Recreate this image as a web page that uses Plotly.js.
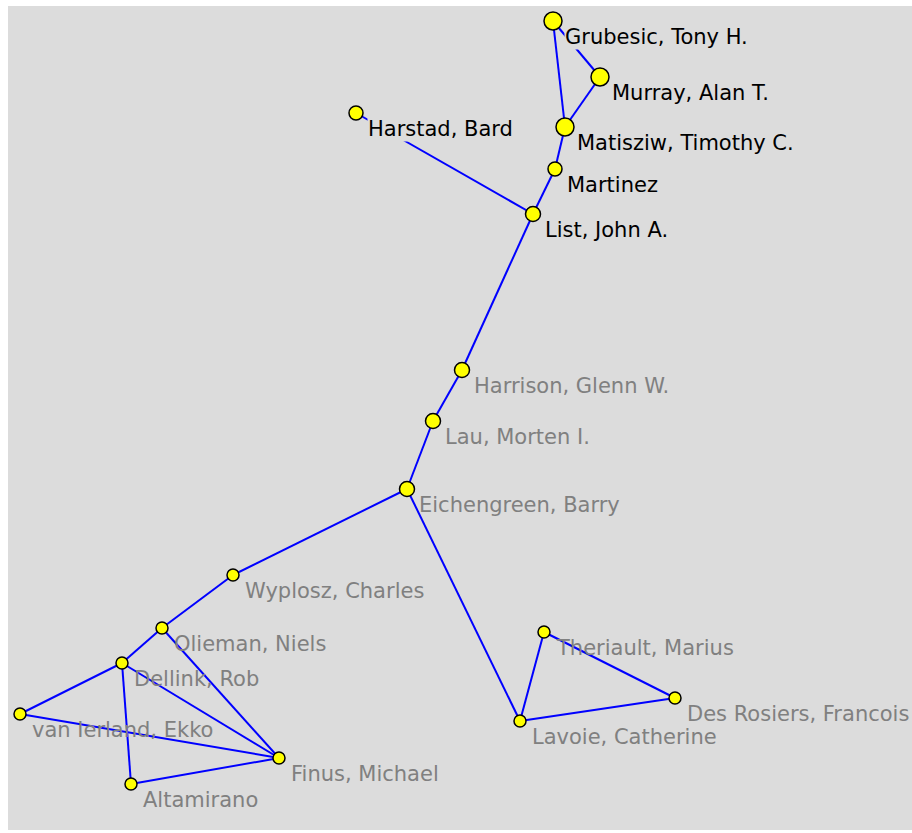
<!DOCTYPE html>
<html>
<head>
<meta charset="utf-8">
<script src="https://cdn.plot.ly/plotly-3.0.1.min.js"></script>
<style>html,body{margin:0;padding:0;background:#fff;}</style>
</head>
<body>
<div id="chart" style="width:912px;height:833px;"></div>
<script>
// Node names
const names = [
  "Grubesic, Tony H.", "Murray, Alan T.", "Matisziw, Timothy C.", "Martinez",
  "List, John A.", "Harstad, Bard", "Harrison, Glenn W.", "Lau, Morten I.",
  "Eichengreen, Barry", "Wyplosz, Charles", "Olieman, Niels", "Dellink, Rob",
  "van Ierland, Ekko", "Altamirano", "Finus, Michael", "Theriault, Marius",
  "Des Rosiers, Francois", "Lavoie, Catherine"
];
// Layout positions of the nodes (network layout coordinates)
const nodeX = [553, 600, 565, 555, 533, 356, 462, 433, 407, 233, 162, 122, 20, 131, 279, 544, 675, 520];
const nodeY = [21, 77, 127, 169, 214, 113, 370, 421, 489, 575, 628, 663, 714, 784, 758, 632, 698, 721];
// Node weights (drawn as marker size)
const nodeSize = [18, 18, 18, 14, 15, 14, 15, 15, 15, 12, 12, 12, 12, 12, 12, 12, 12, 12];
// Highlighted (black label) nodes
const highlighted = [1, 1, 1, 1, 1, 1, 0, 0, 0, 0, 0, 0, 0, 0, 0, 0, 0, 0];
// Edges: source, target indexes
const edgeFrom = [0, 0, 1, 2, 3, 5, 4, 6, 7, 8, 8, 9, 10, 10, 11, 11, 11, 12, 13, 17, 17, 15];
const edgeTo   = [1, 2, 2, 3, 4, 4, 6, 7, 8, 9, 17, 10, 11, 14, 12, 13, 14, 14, 14, 15, 16, 16];

const ex = [], ey = [];
for (let i = 0; i < edgeFrom.length; i++) {
  ex.push(nodeX[edgeFrom[i]], nodeX[edgeTo[i]], null);
  ey.push(nodeY[edgeFrom[i]], nodeY[edgeTo[i]], null);
}

const edges = {
  type: 'scatter', mode: 'lines', x: ex, y: ey,
  line: {color: '#0000ff', width: 2}, hoverinfo: 'skip', cliponaxis: false
};
const nodes = {
  type: 'scatter', mode: 'markers', x: nodeX, y: nodeY, text: names,
  marker: {symbol: 'circle', size: nodeSize, color: '#ffff00', opacity: 1, line: {color: '#000000', width: 1.5}},
  hoverinfo: 'text', cliponaxis: false
};

const annotations = names.map((n, i) => ({
  x: nodeX[i], y: nodeY[i], xref: 'x', yref: 'y', text: n, showarrow: false,
  xanchor: 'left', yanchor: 'middle', xshift: 11, yshift: -16,
  font: {family: 'DejaVu Sans, sans-serif', size: 21, color: highlighted[i] ? '#000000' : '#808080'},
  bgcolor: highlighted[i] ? '#dcdcdc' : 'rgba(0,0,0,0)', borderpad: 0
}));

const layout = {
  width: 912, height: 833,
  margin: {l: 8, r: 0, t: 6, b: 3},
  paper_bgcolor: '#ffffff', plot_bgcolor: '#dcdcdc',
  showlegend: false,
  xaxis: {range: [8, 912], visible: false, showgrid: false, zeroline: false, fixedrange: true},
  yaxis: {range: [830, 6], visible: false, showgrid: false, zeroline: false, fixedrange: true},
  annotations: annotations
};

Plotly.newPlot('chart', [edges, nodes], layout, {displayModeBar: false, staticPlot: true});
</script>
</body>
</html>
